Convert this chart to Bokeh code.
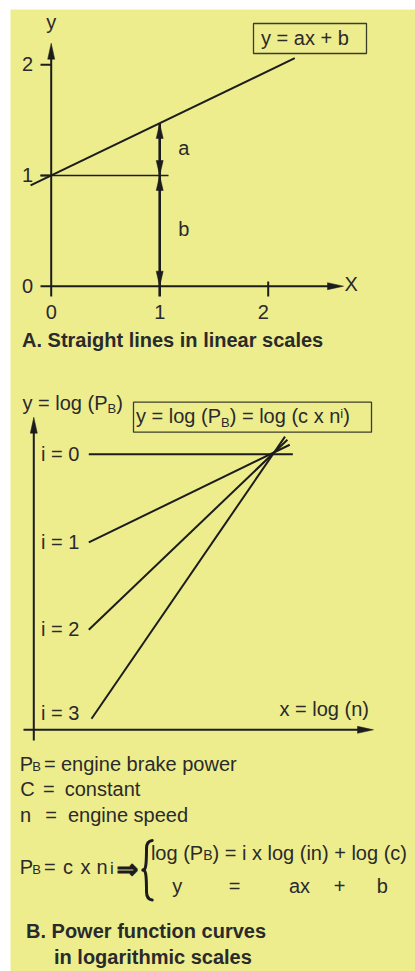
from bokeh.plotting import figure
from bokeh.models import Range1d
from bokeh.core.properties import value
from bokeh.embed import file_html
from bokeh.resources import INLINE

# ---------------- data : panel A (straight line in linear scales) ----------------
a_x_ticks = [0, 1, 2]
a_x_tick_labels = ["0", "1", "2"]
a_y_ticks = [0, 1, 2]
a_y_tick_labels = ["0", "1", "2"]
a_line_x = [-0.19, 2.245]          # end points of y = ax + b
a_line_y = [0.91, 2.06]
a_step_x = 1.0                      # x where the slope a is shown
a_b_value = 1.0                     # intercept b
a_line_at_step = 1.47               # y of the line at x = 1 (b + a)

# ---------------- data : panel B (power functions in log scales) ----------------
b_exponents = [0, 1, 2, 3]
b_labels = ["i = 0", "i = 1", "i = 2", "i = 3"]
b_x_start = [0.0, 0.0, 0.0, 0.015]
b_y_start = [3.0, 2.0, 1.01, 0.0]
b_x_end = [1.123, 1.106, 1.093, 1.08]
b_y_end = [3.0, 3.107, 3.163, 3.2]

# ---------------- styles / layout ----------------
YELLOW = "#EDED8E"
INK = "#1c1c1c"
TXT = "#2a2a2a"
BOX = "#3c3c2a"
FONT = "Liberation Sans"
W, H = 415, 971
FL, FT = 10, 9            # white strip left / top
BASE_FIX = 0.37           # baseline correction (fraction of font size)

ARIAL = {" ": 278, "(": 333, ")": 333, "+": 584, "=": 584, "B": 667, "C": 722, "P": 667,
         "a": 556, "b": 556, "c": 500, "d": 556, "e": 556, "g": 556, "i": 222, "k": 500,
         "l": 222, "n": 556, "o": 556, "p": 556, "r": 333, "s": 500, "t": 278, "w": 722,
         "x": 500, "y": 500}


def text_width(s, size):
    return sum(ARIAL.get(ch, 556) for ch in s) / 1000.0 * size


# panel A: page px of origin, px per unit
A_OX, A_OY, A_UX, A_UY = 50.7, 285.7, 108.5, 110.7
# panel B
B_OX, B_OY, B_UX, B_UY = 88.3, 718.3, 181.7, 88.2


def ax_(px): return (px - A_OX) / A_UX
def ay_(py): return (A_OY - py) / A_UY
def bx_(px): return (px - B_OX) / B_UX
def by_(py): return (B_OY - py) / B_UY


p = figure(width=W, height=H, output_backend="svg", toolbar_location=None,
           x_axis_type=None, y_axis_type=None,
           x_range=Range1d(bx_(FL), bx_(W)), y_range=Range1d(by_(H), by_(FT)),
           min_border_left=FL, min_border_right=0, min_border_top=FT, min_border_bottom=0,
           background_fill_color=YELLOW, border_fill_color="white", outline_line_color=None)
p.extra_x_ranges = {"ax": Range1d(ax_(FL), ax_(W))}
p.extra_y_ranges = {"ay": Range1d(ay_(H), ay_(FT))}
p.xgrid.visible = False
p.ygrid.visible = False

A = dict(x_range_name="ax", y_range_name="ay")
B = dict()


def txt(x, y, s, size=20, align="left", style="normal", dx=0, dy=0, font=FONT, color=TXT, rng=B, **kw):
    return p.text(x=[x], y=[y], text=[s], x_offset=dx, y_offset=dy - BASE_FIX * size,
                  text_font=value(font), text_font_size=f"{size}px", text_font_style=style,
                  text_align=align, text_baseline="alphabetic", text_color=color, **rng, **kw)


def rich(x, y, pieces, rng=B):
    off = 0.0
    for s, size, raise_px in pieces:
        txt(x, y, s, size=size, dx=off, dy=-raise_px, rng=rng)
        off += text_width(s, size)


def heads(tips, ux, uy, length=15, width=7, rng=B):
    xs, ys = [], []
    for tx, ty, d in tips:
        L, Wd = length, width / 2.0
        if d == "up":
            xs.append([tx, tx - Wd / ux, tx + Wd / ux]); ys.append([ty, ty - L / uy, ty - L / uy])
        elif d == "down":
            xs.append([tx, tx - Wd / ux, tx + Wd / ux]); ys.append([ty, ty + L / uy, ty + L / uy])
        else:
            xs.append([tx, tx - L / ux, tx - L / ux]); ys.append([ty, ty - Wd / uy, ty + Wd / uy])
    p.patches(xs=xs, ys=ys, fill_color=INK, line_color=INK, line_width=0.5, **rng)


# ================= panel A =================
p.segment(x0=[0], y0=[ay_(296)], x1=[0], y1=[ay_(50)], line_color=INK, line_width=2, **A)
p.segment(x0=[ax_(40)], y0=[0], x1=[ax_(335)], y1=[0], line_color=INK, line_width=2, **A)
heads([(0, ay_(42.7), "up"), (ax_(343), 0, "right")], A_UX, A_UY, 16, 7, rng=A)
yt = [v for v in a_y_ticks if v != 0]
p.segment(x0=[ax_(40)] * len(yt), y0=yt, x1=[0] * len(yt), y1=yt, line_color=INK, line_width=2, **A)
xt = [v for v in a_x_ticks if v not in (0, a_step_x)]
p.segment(x0=xt, y0=[ay_(296)] * len(xt), x1=xt, y1=[ay_(281)] * len(xt), line_color=INK, line_width=2, **A)
p.segment(x0=[ax_(40)], y0=[a_b_value], x1=[ax_(168)], y1=[a_b_value], line_color=INK, line_width=1.4, **A)
p.segment(x0=[a_step_x], y0=[ay_(296)], x1=[a_step_x], y1=[a_line_at_step], line_color=INK,
          line_width=2.6, **A)
heads([(a_step_x, a_line_at_step, "up"), (a_step_x, a_b_value, "down"),
       (a_step_x, a_b_value, "up"), (a_step_x, 0, "down")], A_UX, A_UY, 15, 7, rng=A)
p.line(x=a_line_x, y=a_line_y, line_color=INK, line_width=2, **A)

for v, lab in zip(a_y_ticks, a_y_tick_labels):
    txt(ax_(27), v, lab, align="center", dy=7, rng=A)
for v, lab, o in zip(a_x_ticks, a_x_tick_labels, [0, 0, -5]):
    txt(v, 0, lab, align="center", dx=o, dy=33.6, rng=A)
txt(0, ay_(29), "y", align="center", rng=A)
txt(ax_(344), 0, "X", dy=5, rng=A)
txt(ax_(183.3), ay_(155.3), "a", align="center", rng=A)
txt(ax_(183.3), ay_(236), "b", align="center", rng=A)
p.quad(left=[ax_(253)], right=[ax_(366)], top=[ay_(23)], bottom=[ay_(53)],
       fill_color=None, line_color=BOX, line_width=1.3, **A)
txt(ax_(260.5), ay_(45), "y = ax + b", rng=A)
txt(ax_(21.5), ay_(346.7), "A. Straight lines in linear scales", style="bold", rng=A)

# ================= panel B =================
B_AXIS_X = bx_(33.3)
B_AXIS_Y = by_(729.3)
p.segment(x0=[B_AXIS_X], y0=[by_(740)], x1=[B_AXIS_X], y1=[by_(424)], line_color=INK, line_width=2)
p.segment(x0=[bx_(23)], y0=[B_AXIS_Y], x1=[bx_(365)], y1=[B_AXIS_Y], line_color=INK, line_width=2)
heads([(B_AXIS_X, by_(416.7), "up"), (bx_(373), B_AXIS_Y, "right")], B_UX, B_UY, 16, 7)

p.segment(x0=b_x_start, y0=b_y_start, x1=b_x_end, y1=b_y_end, line_color=INK, line_width=2)

for ys, lab, d in zip(b_y_start, b_labels, [7, 7, 7, 2]):
    txt(bx_(40.4), ys, lab, dy=d)

rich(bx_(22), by_(410), [("y = log (P", 20, 0), ("B", 13, -2.5), (")", 20, 0)])
p.quad(left=[bx_(133)], right=[bx_(371)], top=[by_(401.7)], bottom=[by_(431.7)],
       fill_color=None, line_color=BOX, line_width=1.3)
rich(bx_(135.5), by_(423.3), [("y = log (P", 20, 0), ("B", 13, -4), (") = log (c x n", 20, 0),
                              ("i", 13, 5), (" )", 20, 0)])
rich(bx_(279), by_(716), [("x = log (n)", 20, 0)])

# legend of symbols (text placed at measured origins)
L1, L2, L3, L4 = 770.7, 796, 821.7, 874
txt(bx_(19.2), by_(L1), "P"); txt(bx_(31.7), by_(L1), "B", size=13)
txt(bx_(43.5), by_(L1), "="); txt(bx_(60.5), by_(L1), "engine brake power")
txt(bx_(19.7), by_(L2), "C"); txt(bx_(42.5), by_(L2), "="); txt(bx_(64.2), by_(L2), "constant")
txt(bx_(19.4), by_(L3), "n"); txt(bx_(44.8), by_(L3), "="); txt(bx_(67.5), by_(L3), "engine speed")
txt(bx_(19.2), by_(L4), "P"); txt(bx_(31.7), by_(L4), "B", size=13)
txt(bx_(43.5), by_(L4), "="); txt(bx_(62.5), by_(L4), "c"); txt(bx_(80), by_(L4), "x")
txt(bx_(96), by_(L4), "n"); txt(bx_(109.6), by_(L4), "i", size=17)
try:
    txt(bx_(116), by_(878), "⇒", size=26, style="bold", font="DejaVu Sans", color=INK,
        text_outline_color=INK)
except Exception:
    txt(bx_(116), by_(878), "⇒", size=26, style="bold", font="DejaVu Sans", color=INK)
br = [((151.7, 840), (146, 848), (147.5, 840.5), (146, 843.5)),
      ((146, 848), (142.5, 869.5), (146, 866), (145, 869.5)),
      ((142.5, 869.5), (146, 891), (145, 869.5), (146, 873)),
      ((146, 891), (151.7, 899.5), (146, 896), (147.5, 899))]
p.bezier(x0=[bx_(s[0][0]) for s in br], y0=[by_(s[0][1]) for s in br],
         x1=[bx_(s[1][0]) for s in br], y1=[by_(s[1][1]) for s in br],
         cx0=[bx_(s[2][0]) for s in br], cy0=[by_(s[2][1]) for s in br],
         cx1=[bx_(s[3][0]) for s in br], cy1=[by_(s[3][1]) for s in br],
         line_color=INK, line_width=3, line_cap="round")
rich(bx_(150.4), by_(860), [("log (P", 20, 0), ("B", 14, 0), (") = i x log (in) + log (c)", 20, 0)])
row2 = ["y", "=", "ax", "+", "b"]
row2_px = [176.7, 234, 299, 339, 381.7]
for t, px in zip(row2, row2_px):
    txt(bx_(px), by_(893.3), t, align="center")

txt(bx_(25.5), by_(938.3), "B. Power function curves", style="bold")
txt(bx_(53.5), by_(964), "in logarithmic scales", style="bold")

open("out.html", "w").write(file_html(p, INLINE))
